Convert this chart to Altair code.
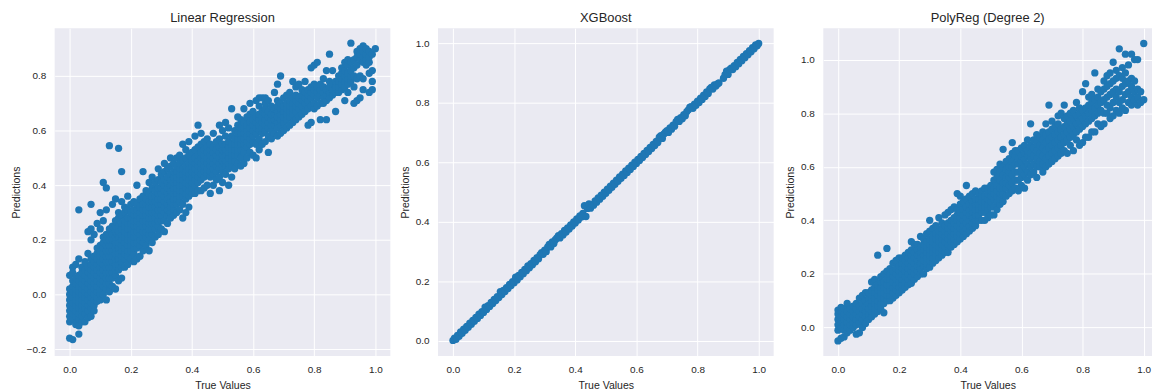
import altair as alt
import pandas as pd

# ---------------- data ----------------
# Linear Regression: true-value strips and the predictions seen in each strip
lr_true = [0.00, 0.01, 0.02, 0.03, 0.04, 0.05, 0.06, 0.07, 0.08, 0.09,
           0.10, 0.11, 0.12, 0.13, 0.14, 0.15, 0.16, 0.17, 0.18, 0.19,
           0.20, 0.21, 0.22, 0.23, 0.24, 0.25, 0.26, 0.27, 0.28, 0.29,
           0.30, 0.31, 0.32, 0.33, 0.34, 0.35, 0.36, 0.37, 0.38, 0.39,
           0.40, 0.41, 0.42, 0.43, 0.44, 0.45, 0.46, 0.47, 0.48, 0.49,
           0.50, 0.51, 0.52, 0.53, 0.54, 0.55, 0.56, 0.57, 0.58, 0.59,
           0.60, 0.61, 0.62, 0.63, 0.64, 0.65, 0.66, 0.67, 0.68, 0.69,
           0.70, 0.71, 0.72, 0.73, 0.74, 0.75, 0.76, 0.77, 0.78, 0.79,
           0.80, 0.81, 0.82, 0.83, 0.84, 0.85, 0.86, 0.87, 0.88, 0.89,
           0.90, 0.91, 0.92, 0.93, 0.94, 0.95, 0.96, 0.97, 0.98, 0.99, 1.00]
lr_pred = [
    [-0.16, -0.10, -0.08, -0.06, -0.04, -0.02, 0.00, 0.02, 0.07],
    [-0.165, -0.09, -0.07, -0.05, -0.03, -0.01, 0.01, 0.03, 0.05, 0.08, 0.10],
    [-0.11, -0.08, -0.06, -0.04, -0.02, 0.00, 0.02, 0.04, 0.06, 0.11],
    [-0.145, -0.115, -0.09, -0.07, -0.05, -0.03, -0.01, 0.01, 0.03, 0.05, 0.07, 0.13, 0.31],
    [-0.10, -0.08, -0.06, -0.04, -0.02, 0.00, 0.02, 0.04, 0.06, 0.08, 0.10],
    [-0.10, -0.07, -0.05, -0.03, -0.01, 0.01, 0.03, 0.05, 0.07, 0.09, 0.12],
    [-0.085, -0.06, -0.04, -0.02, 0.00, 0.02, 0.04, 0.06, 0.08, 0.10, 0.15, 0.23],
    [-0.08, -0.05, -0.03, -0.01, 0.01, 0.03, 0.05, 0.07, 0.09, 0.11, 0.13, 0.20, 0.24, 0.33],
    [-0.06, -0.04, -0.02, 0.00, 0.02, 0.04, 0.06, 0.08, 0.10, 0.12, 0.14, 0.22],
    [-0.025, -0.01, 0.01, 0.03, 0.05, 0.07, 0.09, 0.11, 0.13, 0.15, 0.17, 0.26],
    [-0.02, 0.00, 0.02, 0.04, 0.06, 0.08, 0.10, 0.12, 0.14, 0.16, 0.18, 0.24, 0.30],
    [0.00, 0.03, 0.05, 0.07, 0.09, 0.11, 0.13, 0.15, 0.17, 0.19, 0.21, 0.27, 0.41],
    [-0.02, 0.02, 0.04, 0.06, 0.08, 0.10, 0.12, 0.14, 0.16, 0.18, 0.20, 0.22, 0.31, 0.39],
    [0.01, 0.04, 0.06, 0.08, 0.10, 0.12, 0.14, 0.16, 0.18, 0.20, 0.22, 0.24, 0.545],
    [0.03, 0.06, 0.08, 0.10, 0.12, 0.14, 0.16, 0.18, 0.20, 0.22, 0.25, 0.33],
    [0.02, 0.07, 0.09, 0.11, 0.13, 0.15, 0.17, 0.19, 0.21, 0.23, 0.25, 0.27, 0.35],
    [0.05, 0.09, 0.11, 0.13, 0.15, 0.17, 0.19, 0.21, 0.23, 0.25, 0.28, 0.30, 0.535],
    [0.06, 0.10, 0.12, 0.14, 0.16, 0.18, 0.20, 0.22, 0.24, 0.26, 0.29, 0.34, 0.45],
    [0.10, 0.13, 0.15, 0.17, 0.19, 0.21, 0.23, 0.25, 0.27, 0.30, 0.32],
    [0.11, 0.14, 0.16, 0.18, 0.20, 0.22, 0.24, 0.26, 0.28, 0.31, 0.36],
    [0.13, 0.16, 0.18, 0.20, 0.22, 0.24, 0.26, 0.28, 0.30, 0.33],
    [0.12, 0.15, 0.17, 0.19, 0.21, 0.23, 0.25, 0.27, 0.29, 0.31, 0.34],
    [0.13, 0.17, 0.19, 0.21, 0.23, 0.25, 0.27, 0.29, 0.31, 0.33, 0.40],
    [0.14, 0.18, 0.20, 0.22, 0.24, 0.26, 0.28, 0.30, 0.32, 0.35],
    [0.16, 0.19, 0.21, 0.23, 0.25, 0.27, 0.29, 0.31, 0.33, 0.36, 0.45],
    [0.18, 0.21, 0.23, 0.25, 0.27, 0.29, 0.31, 0.33, 0.35, 0.38],
    [0.16, 0.20, 0.22, 0.24, 0.26, 0.28, 0.30, 0.32, 0.34, 0.37, 0.41],
    [0.19, 0.22, 0.24, 0.26, 0.28, 0.30, 0.32, 0.34, 0.36, 0.39, 0.43],
    [0.21, 0.24, 0.26, 0.28, 0.30, 0.32, 0.34, 0.36, 0.38, 0.41],
    [0.22, 0.25, 0.27, 0.29, 0.31, 0.33, 0.35, 0.37, 0.39, 0.42, 0.46],
    [0.24, 0.27, 0.29, 0.31, 0.33, 0.35, 0.37, 0.39, 0.41, 0.44],
    [0.23, 0.27, 0.30, 0.32, 0.34, 0.36, 0.38, 0.40, 0.42, 0.45, 0.48],
    [0.26, 0.29, 0.31, 0.33, 0.35, 0.37, 0.39, 0.41, 0.43, 0.46],
    [0.28, 0.30, 0.32, 0.34, 0.36, 0.38, 0.40, 0.42, 0.44, 0.47, 0.50],
    [0.29, 0.31, 0.33, 0.35, 0.37, 0.39, 0.41, 0.43, 0.45, 0.48],
    [0.30, 0.33, 0.35, 0.37, 0.39, 0.41, 0.43, 0.45, 0.47, 0.50],
    [0.31, 0.34, 0.36, 0.38, 0.40, 0.42, 0.44, 0.46, 0.48, 0.51],
    [0.28, 0.33, 0.36, 0.38, 0.40, 0.42, 0.44, 0.46, 0.49, 0.55],
    [0.30, 0.35, 0.37, 0.39, 0.41, 0.43, 0.45, 0.47, 0.50, 0.53],
    [0.32, 0.36, 0.38, 0.40, 0.42, 0.44, 0.46, 0.48, 0.51, 0.56],
    [0.37, 0.39, 0.41, 0.43, 0.45, 0.47, 0.49, 0.52],
    [0.37, 0.40, 0.42, 0.44, 0.46, 0.48, 0.50, 0.53, 0.58],
    [0.38, 0.41, 0.43, 0.45, 0.47, 0.49, 0.51, 0.54, 0.62],
    [0.38, 0.42, 0.44, 0.46, 0.48, 0.50, 0.52, 0.55, 0.59],
    [0.39, 0.43, 0.45, 0.47, 0.49, 0.51, 0.53, 0.56],
    [0.40, 0.44, 0.46, 0.48, 0.50, 0.52, 0.54, 0.57],
    [0.37, 0.43, 0.45, 0.47, 0.49, 0.51, 0.53, 0.55],
    [0.40, 0.44, 0.46, 0.48, 0.50, 0.52, 0.54, 0.59],
    [0.42, 0.45, 0.47, 0.49, 0.51, 0.53, 0.56],
    [0.38, 0.43, 0.46, 0.48, 0.50, 0.52, 0.54, 0.57, 0.62],
    [0.41, 0.45, 0.47, 0.49, 0.51, 0.53, 0.55, 0.60],
    [0.44, 0.47, 0.49, 0.51, 0.53, 0.55, 0.58, 0.63],
    [0.40, 0.46, 0.48, 0.50, 0.52, 0.54, 0.56, 0.61],
    [0.43, 0.47, 0.49, 0.51, 0.53, 0.55, 0.58, 0.68],
    [0.46, 0.49, 0.51, 0.53, 0.55, 0.57, 0.60],
    [0.48, 0.51, 0.53, 0.55, 0.57, 0.59, 0.62, 0.65],
    [0.47, 0.50, 0.53, 0.55, 0.57, 0.59, 0.61, 0.64],
    [0.48, 0.52, 0.55, 0.57, 0.59, 0.61, 0.63, 0.68],
    [0.50, 0.54, 0.56, 0.58, 0.60, 0.62, 0.65],
    [0.52, 0.55, 0.57, 0.59, 0.61, 0.63, 0.66, 0.70],
    [0.51, 0.56, 0.58, 0.60, 0.62, 0.64, 0.67],
    [0.50, 0.55, 0.59, 0.61, 0.63, 0.65, 0.71],
    [0.53, 0.57, 0.60, 0.62, 0.64, 0.66, 0.69, 0.72],
    [0.55, 0.59, 0.61, 0.63, 0.65, 0.67, 0.72],
    [0.56, 0.60, 0.62, 0.64, 0.66, 0.68, 0.70, 0.72],
    [0.52, 0.58, 0.61, 0.63, 0.65, 0.67, 0.71],
    [0.57, 0.60, 0.62, 0.64, 0.66, 0.69],
    [0.59, 0.62, 0.64, 0.66, 0.68, 0.74],
    [0.58, 0.61, 0.63, 0.65, 0.67, 0.69, 0.71, 0.77],
    [0.59, 0.62, 0.64, 0.66, 0.68, 0.70, 0.80],
    [0.60, 0.63, 0.65, 0.67, 0.69, 0.72],
    [0.61, 0.64, 0.66, 0.68, 0.70, 0.73],
    [0.62, 0.65, 0.67, 0.69, 0.71, 0.74],
    [0.63, 0.66, 0.68, 0.70, 0.72, 0.78],
    [0.64, 0.67, 0.69, 0.71, 0.73, 0.76],
    [0.65, 0.68, 0.70, 0.72, 0.77],
    [0.66, 0.69, 0.71, 0.73, 0.75],
    [0.67, 0.70, 0.72, 0.74, 0.78],
    [0.62, 0.68, 0.71, 0.73, 0.75],
    [0.63, 0.69, 0.72, 0.74, 0.76, 0.83],
    [0.68, 0.70, 0.73, 0.75, 0.77, 0.84],
    [0.69, 0.72, 0.74, 0.76, 0.85],
    [0.64, 0.70, 0.73, 0.75, 0.77],
    [0.70, 0.72, 0.74, 0.76, 0.79],
    [0.64, 0.71, 0.73, 0.75, 0.82],
    [0.72, 0.74, 0.76, 0.78, 0.88],
    [0.73, 0.75, 0.77, 0.82],
    [0.67, 0.74, 0.76, 0.78],
    [0.74, 0.76, 0.78, 0.80],
    [0.75, 0.77, 0.79, 0.81, 0.83],
    [0.71, 0.76, 0.78, 0.80, 0.82, 0.85],
    [0.74, 0.77, 0.79, 0.81, 0.84, 0.86],
    [0.78, 0.80, 0.82, 0.85, 0.92],
    [0.70, 0.76, 0.80, 0.83, 0.86],
    [0.71, 0.79, 0.84, 0.87, 0.89],
    [0.72, 0.80, 0.86, 0.88, 0.90],
    [0.75, 0.79, 0.85, 0.87, 0.89, 0.91],
    [0.84, 0.86, 0.88, 0.90],
    [0.74, 0.81, 0.85, 0.87, 0.89],
    [0.75, 0.78, 0.82, 0.88],
    [0.90],
]

# XGBoost: (true, predicted) pairs, all close to the diagonal
xgb_pairs = [
    [0.000, 0.002], [0.005, 0.010], [0.010, 0.006], [0.015, 0.019], [0.020, 0.016],
    [0.025, 0.031], [0.030, 0.026], [0.035, 0.040], [0.040, 0.036], [0.045, 0.049],
    [0.050, 0.046], [0.055, 0.060], [0.060, 0.056], [0.065, 0.069], [0.070, 0.066],
    [0.075, 0.079], [0.080, 0.076], [0.085, 0.090], [0.090, 0.086], [0.095, 0.099],
    [0.100, 0.096], [0.105, 0.114], [0.110, 0.106], [0.115, 0.119], [0.120, 0.116],
    [0.125, 0.130], [0.130, 0.126], [0.135, 0.140], [0.140, 0.136], [0.145, 0.149],
    [0.150, 0.146], [0.155, 0.166], [0.160, 0.156], [0.165, 0.170], [0.170, 0.166],
    [0.175, 0.179], [0.180, 0.176], [0.185, 0.190], [0.190, 0.186], [0.195, 0.199],
    [0.200, 0.196], [0.205, 0.214], [0.210, 0.205], [0.215, 0.220], [0.220, 0.216],
    [0.225, 0.230], [0.230, 0.226], [0.235, 0.240], [0.240, 0.236], [0.245, 0.252],
    [0.250, 0.246], [0.255, 0.260], [0.260, 0.256], [0.265, 0.271], [0.270, 0.266],
    [0.275, 0.280], [0.280, 0.276], [0.285, 0.290], [0.290, 0.297], [0.295, 0.291],
    [0.300, 0.305], [0.305, 0.300], [0.310, 0.316], [0.315, 0.324], [0.320, 0.316],
    [0.325, 0.333], [0.330, 0.327], [0.335, 0.340], [0.340, 0.346], [0.345, 0.354],
    [0.350, 0.346], [0.355, 0.360], [0.360, 0.356], [0.365, 0.371], [0.370, 0.366],
    [0.375, 0.380], [0.380, 0.376], [0.385, 0.390], [0.390, 0.386], [0.395, 0.400],
    [0.400, 0.396], [0.405, 0.410], [0.410, 0.406], [0.415, 0.420], [0.420, 0.416],
    [0.425, 0.428], [0.430, 0.454], [0.435, 0.418], [0.440, 0.445], [0.445, 0.460],
    [0.450, 0.446], [0.455, 0.458], [0.460, 0.456], [0.465, 0.470], [0.470, 0.466],
    [0.475, 0.480], [0.480, 0.476], [0.485, 0.490], [0.490, 0.486], [0.495, 0.500],
    [0.500, 0.496], [0.505, 0.510], [0.510, 0.506], [0.515, 0.520], [0.520, 0.516],
    [0.525, 0.530], [0.530, 0.526], [0.535, 0.540], [0.540, 0.536], [0.545, 0.551],
    [0.550, 0.546], [0.555, 0.560], [0.560, 0.556], [0.565, 0.571], [0.570, 0.566],
    [0.575, 0.580], [0.580, 0.576], [0.585, 0.590], [0.590, 0.586], [0.595, 0.600],
    [0.600, 0.596], [0.605, 0.610], [0.610, 0.606], [0.615, 0.620], [0.620, 0.616],
    [0.625, 0.630], [0.630, 0.626], [0.635, 0.640], [0.640, 0.636], [0.645, 0.650],
    [0.650, 0.646], [0.655, 0.660], [0.660, 0.656], [0.665, 0.670], [0.670, 0.666],
    [0.675, 0.684], [0.680, 0.689], [0.685, 0.680], [0.690, 0.695], [0.695, 0.701],
    [0.700, 0.706], [0.705, 0.700], [0.710, 0.715], [0.715, 0.711], [0.720, 0.725],
    [0.725, 0.721], [0.730, 0.736], [0.735, 0.744], [0.740, 0.737], [0.745, 0.750],
    [0.750, 0.746], [0.755, 0.760], [0.760, 0.756], [0.765, 0.770], [0.770, 0.776],
    [0.775, 0.785], [0.780, 0.787], [0.785, 0.781], [0.790, 0.795], [0.795, 0.791],
    [0.800, 0.805], [0.805, 0.801], [0.810, 0.815], [0.815, 0.811], [0.820, 0.825],
    [0.825, 0.821], [0.830, 0.836], [0.835, 0.831], [0.840, 0.846], [0.845, 0.851],
    [0.850, 0.846], [0.855, 0.860], [0.860, 0.856], [0.865, 0.863], [0.870, 0.866],
    [0.885, 0.882], [0.890, 0.894], [0.895, 0.906], [0.900, 0.895], [0.905, 0.911],
    [0.910, 0.916], [0.915, 0.911], [0.920, 0.924], [0.925, 0.921], [0.930, 0.935],
    [0.935, 0.931], [0.940, 0.945], [0.945, 0.941], [0.950, 0.955], [0.955, 0.951],
    [0.960, 0.965], [0.965, 0.961], [0.970, 0.975], [0.975, 0.971], [0.980, 0.985],
    [0.985, 0.981], [0.990, 0.994], [0.995, 0.991], [1.000, 0.999],
]

# Polynomial regression (degree 2): true-value strips and predictions seen in each
poly_true = lr_true
poly_pred = [
    [-0.05, -0.01, 0.01, 0.03, 0.05, 0.065],
    [-0.04, 0.00, 0.02, 0.04, 0.06, 0.075],
    [-0.035, -0.01, 0.01, 0.03, 0.05, 0.07],
    [-0.02, 0.00, 0.02, 0.04, 0.06, 0.09],
    [-0.01, 0.01, 0.03, 0.05, 0.07],
    [0.00, 0.02, 0.04, 0.06, 0.08],
    [-0.025, 0.01, 0.03, 0.05, 0.07, 0.09],
    [-0.02, 0.02, 0.04, 0.06, 0.08, 0.11],
    [0.00, 0.03, 0.05, 0.07, 0.09, 0.12],
    [0.015, 0.04, 0.06, 0.08, 0.10, 0.13],
    [0.03, 0.05, 0.07, 0.09, 0.11, 0.13],
    [0.04, 0.06, 0.08, 0.10, 0.12, 0.14, 0.17],
    [0.05, 0.07, 0.09, 0.11, 0.13, 0.15, 0.18],
    [0.06, 0.08, 0.10, 0.12, 0.14, 0.16, 0.27],
    [0.07, 0.09, 0.11, 0.13, 0.15, 0.17, 0.19],
    [0.055, 0.09, 0.11, 0.13, 0.15, 0.17, 0.20],
    [0.10, 0.12, 0.14, 0.16, 0.18, 0.21, 0.295],
    [0.10, 0.12, 0.14, 0.16, 0.18, 0.20, 0.22],
    [0.11, 0.13, 0.15, 0.17, 0.19, 0.21, 0.24],
    [0.12, 0.14, 0.16, 0.18, 0.20, 0.22, 0.25],
    [0.13, 0.15, 0.17, 0.19, 0.21, 0.23, 0.26],
    [0.14, 0.16, 0.18, 0.20, 0.22, 0.24, 0.26],
    [0.15, 0.17, 0.19, 0.21, 0.23, 0.25, 0.27],
    [0.16, 0.18, 0.20, 0.22, 0.24, 0.26, 0.28],
    [0.165, 0.19, 0.21, 0.23, 0.25, 0.27, 0.29, 0.32],
    [0.18, 0.20, 0.22, 0.24, 0.26, 0.28, 0.31],
    [0.19, 0.21, 0.23, 0.25, 0.27, 0.29, 0.31],
    [0.20, 0.22, 0.24, 0.26, 0.28, 0.30, 0.34],
    [0.20, 0.23, 0.25, 0.27, 0.29, 0.31, 0.33],
    [0.22, 0.24, 0.26, 0.28, 0.30, 0.32, 0.35],
    [0.225, 0.25, 0.27, 0.29, 0.31, 0.33, 0.36, 0.40],
    [0.24, 0.26, 0.28, 0.30, 0.32, 0.34, 0.37],
    [0.25, 0.27, 0.29, 0.31, 0.33, 0.35, 0.38],
    [0.26, 0.28, 0.30, 0.32, 0.34, 0.36, 0.41],
    [0.27, 0.29, 0.31, 0.33, 0.35, 0.37, 0.39],
    [0.28, 0.30, 0.32, 0.34, 0.36, 0.38, 0.42],
    [0.28, 0.31, 0.33, 0.35, 0.37, 0.39, 0.43],
    [0.30, 0.32, 0.34, 0.36, 0.38, 0.40, 0.44],
    [0.31, 0.33, 0.35, 0.37, 0.39, 0.41, 0.45],
    [0.32, 0.34, 0.36, 0.38, 0.40, 0.42, 0.44, 0.50],
    [0.33, 0.35, 0.37, 0.39, 0.41, 0.43, 0.46, 0.49],
    [0.34, 0.36, 0.38, 0.40, 0.42, 0.44, 0.47],
    [0.35, 0.37, 0.39, 0.41, 0.43, 0.45, 0.48, 0.53],
    [0.36, 0.38, 0.40, 0.42, 0.44, 0.46, 0.49],
    [0.37, 0.39, 0.41, 0.43, 0.45, 0.47, 0.50],
    [0.38, 0.40, 0.42, 0.44, 0.46, 0.48, 0.51],
    [0.40, 0.42, 0.44, 0.46, 0.48, 0.50],
    [0.40, 0.43, 0.45, 0.47, 0.49, 0.51],
    [0.40, 0.43, 0.45, 0.47, 0.49, 0.52],
    [0.41, 0.44, 0.46, 0.48, 0.50, 0.52],
    [0.42, 0.45, 0.47, 0.49, 0.51, 0.53],
    [0.42, 0.45, 0.48, 0.50, 0.52, 0.55, 0.58],
    [0.44, 0.47, 0.49, 0.51, 0.53, 0.56, 0.59],
    [0.46, 0.48, 0.50, 0.52, 0.55, 0.58, 0.61],
    [0.47, 0.50, 0.52, 0.54, 0.57, 0.60, 0.665],
    [0.49, 0.52, 0.54, 0.56, 0.59, 0.62],
    [0.50, 0.53, 0.56, 0.58, 0.60, 0.63],
    [0.51, 0.54, 0.57, 0.60, 0.62, 0.65, 0.69],
    [0.52, 0.55, 0.58, 0.61, 0.64, 0.66],
    [0.51, 0.55, 0.58, 0.61, 0.63, 0.66],
    [0.53, 0.56, 0.59, 0.62, 0.64, 0.67],
    [0.52, 0.57, 0.60, 0.63, 0.65, 0.68],
    [0.55, 0.58, 0.61, 0.64, 0.66, 0.70],
    [0.57, 0.60, 0.63, 0.65, 0.68, 0.76],
    [0.58, 0.61, 0.64, 0.67, 0.70],
    [0.56, 0.60, 0.63, 0.66, 0.69, 0.72],
    [0.60, 0.62, 0.65, 0.68, 0.71],
    [0.58, 0.61, 0.64, 0.67, 0.70, 0.73],
    [0.60, 0.63, 0.66, 0.69, 0.72, 0.76],
    [0.61, 0.64, 0.67, 0.70, 0.73, 0.83],
    [0.62, 0.65, 0.68, 0.71, 0.74, 0.77],
    [0.63, 0.66, 0.69, 0.72, 0.75],
    [0.64, 0.67, 0.70, 0.73, 0.76, 0.79],
    [0.65, 0.68, 0.71, 0.74, 0.80],
    [0.66, 0.69, 0.72, 0.75, 0.78, 0.83],
    [0.65, 0.70, 0.73, 0.76, 0.79],
    [0.68, 0.71, 0.74, 0.77, 0.80],
    [0.66, 0.72, 0.75, 0.78, 0.81],
    [0.70, 0.73, 0.76, 0.79, 0.84],
    [0.68, 0.74, 0.77, 0.80, 0.82],
    [0.69, 0.75, 0.78, 0.81, 0.88],
    [0.71, 0.76, 0.79, 0.82, 0.91],
    [0.71, 0.77, 0.80, 0.83, 0.86],
    [0.73, 0.78, 0.81, 0.84, 0.87],
    [0.73, 0.79, 0.82, 0.85, 0.95],
    [0.76, 0.80, 0.83, 0.86, 0.89],
    [0.75, 0.81, 0.84, 0.88],
    [0.76, 0.80, 0.85, 0.89, 0.92],
    [0.80, 0.83, 0.86, 0.90, 0.94],
    [0.78, 0.82, 0.87, 0.91, 0.95],
    [0.79, 0.84, 0.88, 0.92, 0.99],
    [0.81, 0.86, 0.89, 0.93, 0.96],
    [0.80, 0.84, 0.88, 0.94, 1.04],
    [0.82, 0.85, 0.90, 0.93, 0.97],
    [0.81, 0.87, 0.91, 0.95, 1.02],
    [0.84, 0.88, 0.92, 0.98],
    [0.83, 0.86, 0.90, 0.93, 1.02],
    [0.85, 0.88, 0.92, 1.00],
    [0.83, 0.86, 0.89, 1.00],
    [0.84, 0.88],
    [0.85, 1.06],
]

x_ticks = [0.0, 0.2, 0.4, 0.6, 0.8, 1.0]
lr_y_ticks = [-0.2, 0.0, 0.2, 0.4, 0.6, 0.8]
xgb_y_ticks = [0.0, 0.2, 0.4, 0.6, 0.8, 1.0]
poly_y_ticks = [0.0, 0.2, 0.4, 0.6, 0.8, 1.0]


def strips_to_frame(trues, preds):
    rows = []
    for t, ps in zip(trues, preds):
        for p in ps:
            rows.append({"true": t, "pred": p})
    return pd.DataFrame(rows)


lr_df = strips_to_frame(lr_true, lr_pred)
xgb_df = pd.DataFrame(xgb_pairs, columns=["true", "pred"])
poly_df = strips_to_frame(poly_true, poly_pred)

BLUE = "#1f77b4"


def panel(df, title, xdom, ydom, yticks, w):
    return (
        alt.Chart(df)
        .mark_circle(size=54, color=BLUE, opacity=1, clip=True)
        .encode(
            x=alt.X("true:Q", title="True Values",
                    scale=alt.Scale(domain=xdom, nice=False, zero=False),
                    axis=alt.Axis(values=x_ticks, format=".1f", titlePadding=6)),
            y=alt.Y("pred:Q", title="Predictions",
                    scale=alt.Scale(domain=ydom, nice=False, zero=False),
                    axis=alt.Axis(values=yticks, format=".1f")),
        )
        .properties(width=w, height=330, title=title)
    )


p1 = panel(lr_df, "Linear Regression", [-0.049, 1.049], [-0.225, 0.975], lr_y_ticks, 338)
p2 = panel(xgb_df, "XGBoost", [-0.049, 1.049], [-0.05, 1.05], xgb_y_ticks, 338)
p3 = panel(poly_df, "PolyReg (Degree 2)", [-0.048, 1.027], [-0.106, 1.117], poly_y_ticks, 331)

chart = (
    alt.hconcat(alt.hconcat(p1, p2, spacing=10), p3, spacing=12)
    .properties(padding={"left": 3, "top": 3, "right": 0, "bottom": 0})
    .configure_view(fill="#EAEAF2", stroke=None)
    .configure_axis(
        grid=True, gridColor="#FFFFFF", gridWidth=1, gridOpacity=1,
        domain=False, ticks=False, labelFlush=False,
        labelFont="Liberation Sans", labelFontSize=10, labelColor="#262626",
        titleFont="Liberation Sans", titleFontSize=10.6, titleColor="#262626",
        titleFontWeight="normal", labelPadding=9, titlePadding=5,
    )
    .configure_title(font="Liberation Sans", fontSize=13, fontWeight="normal",
                     color="#262626", offset=3)
)

chart.save("out.html", embed_options={"renderer": "svg", "actions": False})
